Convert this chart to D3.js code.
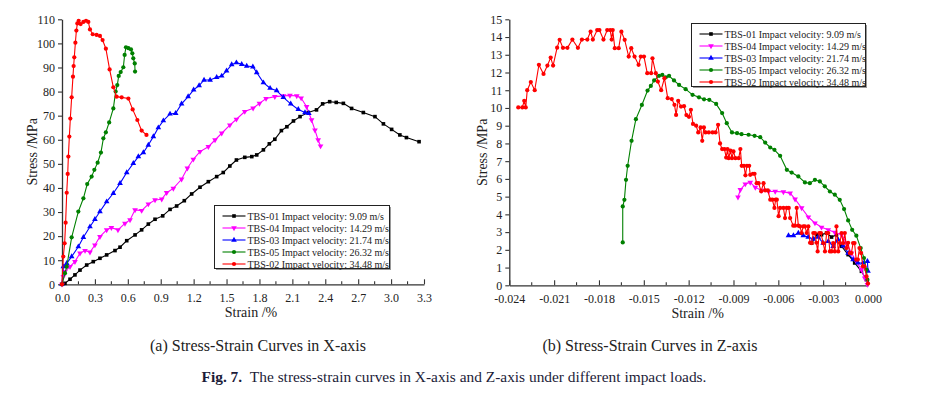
<!DOCTYPE html>
<html>
<head>
<meta charset="utf-8">
<script src="https://cdn.jsdelivr.net/npm/d3@7"></script>
<style>
  body { margin: 0; background: #fff; }
  svg { display: block; font-family: "Liberation Serif", "Times New Roman", serif; }
</style>
</head>
<body>
<div id="chart"></div>
<script>
// Legend labels (same order in both panels)
const legendLabels = [
    "TBS-01 Impact velocity: 9.09 m/s",
    "TBS-04 Impact velocity: 14.29 m/s",
    "TBS-03 Impact velocity: 21.74 m/s",
    "TBS-05 Impact velocity: 26.32 m/s",
    "TBS-02 Impact velocity: 34.48 m/s"
];
const seriesColors = ["#000000", "#ff00ff", "#0000ff", "#008000", "#ff0000"];
const seriesMarkers = ["square", "down", "up", "circle", "circle"];

// Ticks
const xTicksA = [0, 0.3, 0.6, 0.9, 1.2, 1.5, 1.8, 2.1, 2.4, 2.7, 3.0, 3.3];
const yTicksA = [0, 10, 20, 30, 40, 50, 60, 70, 80, 90, 100, 110];
const xTicksB = [-0.024, -0.021, -0.018, -0.015, -0.012, -0.009, -0.006, -0.003, 0];
const yTicksB = [0, 1, 2, 3, 4, 5, 6, 7, 8, 9, 10, 11, 12, 13, 14, 15];

// (a) X-axis: [strain %, stress MPa]
const xAxisTBS01 = [[0,0],[0.027,0.4],[0.073,2.1],[0.118,3.9],[0.164,5.9],[0.225,8],[0.285,9.4],[0.346,10.8],[0.407,12.2],[0.483,14],[0.529,15.4],[0.59,18.1],[0.666,20.5],[0.726,22.6],[0.787,25],[0.848,27],[0.918,28.4],[0.985,31.1],[1.045,32.5],[1.115,34.7],[1.182,37.5],[1.258,40.3],[1.334,42.6],[1.41,44.7],[1.47,46.4],[1.53,49.1],[1.59,51.6],[1.666,52.7],[1.73,53],[1.775,53.7],[1.836,55.8],[1.89,58.3],[1.94,60.2],[2.0,63.8],[2.05,65.4],[2.11,67.8],[2.17,69.6],[2.245,71.3],[2.32,72.4],[2.376,74.9],[2.44,75.8],[2.5,75.5],[2.565,75.1],[2.64,73],[2.747,71.3],[2.853,69.6],[2.93,66.6],[3.005,64.3],[3.08,62],[3.14,60.9],[3.255,59.2]];
const xAxisTBS04 = [[0,0],[0.012,3.2],[0.027,5.3],[0.073,7.3],[0.118,9.4],[0.164,12.9],[0.21,14],[0.255,13.3],[0.3,16.3],[0.346,19.8],[0.407,22.6],[0.45,23.5],[0.51,22.6],[0.574,25.3],[0.62,26.7],[0.666,30.9],[0.726,30.6],[0.787,33.3],[0.848,35],[0.909,35.3],[0.954,38],[1.015,39.8],[1.09,43.6],[1.143,48.2],[1.197,51.9],[1.258,55.1],[1.334,57.1],[1.395,59.9],[1.456,62.7],[1.53,66.1],[1.59,68.5],[1.666,71.7],[1.742,73.1],[1.8,75.1],[1.86,77.1],[1.94,77.9],[2.02,78.2],[2.078,78.4],[2.14,78.2],[2.18,77.3],[2.23,73.7],[2.275,68.2],[2.306,64],[2.335,59.9],[2.357,57.4]];
const xAxisTBS03 = [[0,0],[0.012,7.3],[0.043,8.7],[0.088,11.5],[0.149,15.6],[0.195,19.5],[0.255,23.9],[0.3,27],[0.346,30.2],[0.407,34.3],[0.468,37.8],[0.529,41.9],[0.59,46.4],[0.65,50.2],[0.696,53],[0.742,54.7],[0.787,57.8],[0.833,61.3],[0.878,65],[0.924,67.9],[0.985,70.7],[1.036,71],[1.09,74.9],[1.15,77.9],[1.2,80.7],[1.25,82.5],[1.295,84.8],[1.35,84.8],[1.41,85.9],[1.456,86.5],[1.5,88.6],[1.547,91.2],[1.59,92],[1.638,91.3],[1.684,90.6],[1.74,90.3],[1.775,87.9],[1.836,83.7],[1.897,81.4],[1.957,80.4],[2.018,77.6],[2.085,74.9],[2.154,72.6],[2.215,71.3],[2.25,71]];
const xAxisTBS05 = [[0,0],[0.027,4.6],[0.043,7.3],[0.088,19.5],[0.149,30.2],[0.195,35.7],[0.23,41.6],[0.27,44.7],[0.295,47.5],[0.325,50.5],[0.355,54.7],[0.377,60.6],[0.4,63.1],[0.43,67.2],[0.468,73],[0.489,80],[0.504,82.7],[0.517,86.5],[0.535,88.1],[0.559,90.1],[0.571,95.2],[0.583,98.4],[0.605,98],[0.629,97.5],[0.641,95.9],[0.65,93.8],[0.663,91.7],[0.666,88.3]];
const xAxisTBS02 = [[0,0],[0.012,11.5],[0.024,17],[0.033,25.6],[0.043,38],[0.052,45.8],[0.058,53],[0.067,61.3],[0.076,68.8],[0.088,77.6],[0.1,86.2],[0.106,90.6],[0.112,94.2],[0.122,100.3],[0.131,105.3],[0.14,108.3],[0.152,109.4],[0.17,108],[0.195,108.9],[0.219,109.4],[0.24,108.9],[0.255,105.8],[0.28,103.8],[0.316,103.5],[0.346,103.1],[0.37,101.4],[0.4,97.8],[0.434,89.2],[0.468,81.8],[0.498,77.9],[0.544,77.6],[0.605,77.1],[0.644,72.6],[0.687,68.2],[0.726,63.8],[0.77,62]];

// (b) Z-axis: [strain %, stress MPa]
const zAxisTBS01 = [[-0.00377,2.38],[-0.00344,2.85],[-0.00311,2.85],[-0.00277,2.95],[-0.00244,2.72],[-0.00211,2.85],[-0.00177,2.2],[-0.00133,1.73],[-0.00089,1.26],[-0.00044,0.79],[-0.00011,0.32]];
const zAxisTBS04 = [[-0.0087,4.97],[-0.00854,5.39],[-0.00821,5.71],[-0.00788,5.8],[-0.00754,5.52],[-0.0071,5.35],[-0.00665,5.29],[-0.00621,5.29],[-0.00566,5.27],[-0.00521,5.2],[-0.00488,4.86],[-0.00444,4.36],[-0.00399,3.85],[-0.00355,3.51],[-0.00311,3.27],[-0.00266,3.13],[-0.00222,2.98],[-0.00177,2.85],[-0.00144,2.38],[-0.00111,1.82],[-0.00078,1.35],[-0.00044,0.88],[-0.00022,0.41],[-0.00004,0.04]];
const zAxisTBS03 = [[-0.00532,2.8],[-0.00499,2.8],[-0.00466,2.95],[-0.00433,2.8],[-0.004,2.72],[-0.00366,2.61],[-0.00333,2.72],[-0.003,2.38],[-0.00266,2.48],[-0.00233,2.2],[-0.002,2.57],[-0.00166,2.23],[-0.00133,1.82],[-0.001,1.45],[-0.00067,1.26],[-0.00033,1.26],[-0.00004,1.35],[0,0.8]];
const zAxisTBS05 = [[-0.01641,2.42],[-0.01641,4.45],[-0.0163,4.82],[-0.01619,5.95],[-0.01608,6.74],[-0.01582,8.15],[-0.01553,9.37],[-0.01513,10.17],[-0.01475,10.98],[-0.01453,11.24],[-0.01431,11.55],[-0.01398,11.81],[-0.01376,11.86],[-0.01353,11.73],[-0.01331,11.81],[-0.01298,11.55],[-0.01264,11.3],[-0.0122,11.06],[-0.01174,10.74],[-0.01131,10.6],[-0.01097,10.49],[-0.01062,10.46],[-0.01016,10.23],[-0.00976,9.71],[-0.00945,9.14],[-0.0091,8.62],[-0.00876,8.58],[-0.00846,8.52],[-0.00799,8.49],[-0.00759,8.43],[-0.00721,8.35],[-0.00688,8.05],[-0.00654,7.77],[-0.00626,7.64],[-0.00588,7.3],[-0.00543,6.51],[-0.00511,6.36],[-0.00466,6.14],[-0.00422,5.8],[-0.00389,5.76],[-0.00355,5.95],[-0.00322,5.86],[-0.00289,5.58],[-0.00255,5.29],[-0.00222,5.11],[-0.00189,4.82],[-0.0016,4.3],[-0.00133,3.66],[-0.00106,3.13],[-0.00078,2.8],[-0.00049,2.1],[-0.00027,1.54],[-0.00011,0.88],[-0.00004,0.32]];
const zAxisTBS02 = [[-0.0234,10.03],[-0.02313,10.03],[-0.023,10.4],[-0.0229,10.03],[-0.0228,11.0],[-0.02256,11.46],[-0.0223,11.0],[-0.02202,12.43],[-0.02171,11.92],[-0.02145,12.39],[-0.02123,12.84],[-0.02107,12.39],[-0.0208,13.4],[-0.02063,13.84],[-0.02041,13.39],[-0.02011,13.39],[-0.01978,13.86],[-0.01941,13.39],[-0.01914,13.86],[-0.01878,13.86],[-0.01856,14.31],[-0.01841,13.86],[-0.01812,14.39],[-0.01797,14.39],[-0.0177,13.86],[-0.01745,14.39],[-0.01725,14.39],[-0.01715,13.86],[-0.01708,14.39],[-0.01694,13.37],[-0.01668,13.37],[-0.0165,14.3],[-0.01628,13.84],[-0.01601,12.9],[-0.01584,13.37],[-0.01562,12.9],[-0.01535,12.43],[-0.0152,12.9],[-0.01499,12.9],[-0.01477,11.96],[-0.01451,11.96],[-0.01442,12.8],[-0.0142,11.96],[-0.01406,11.49],[-0.01384,11.0],[-0.01362,11.68],[-0.0134,10.55],[-0.01313,10.5],[-0.01295,10.18],[-0.01284,9.61],[-0.0127,10.4],[-0.01251,10.08],[-0.01231,10.1],[-0.01215,9.6],[-0.01198,9.5],[-0.01185,9.9],[-0.01171,9.1],[-0.0115,9.0],[-0.01136,8.62],[-0.0112,8.9],[-0.01109,8.15],[-0.01098,8.9],[-0.01087,8.62],[-0.01065,8.62],[-0.0104,8.62],[-0.0102,8.62],[-0.01003,9.05],[-0.0099,8.0],[-0.00976,7.68],[-0.0096,7.68],[-0.00949,7.2],[-0.0094,7.68],[-0.00932,7.17],[-0.0092,7.6],[-0.0091,7.17],[-0.009,7.55],[-0.00887,7.17],[-0.00865,7.17],[-0.00854,7.68],[-0.00845,6.74],[-0.0083,6.74],[-0.0082,6.2],[-0.0081,6.74],[-0.00795,6.74],[-0.00788,6.23],[-0.0077,6.29],[-0.00759,6.29],[-0.00745,5.76],[-0.00732,5.76],[-0.00715,5.3],[-0.00699,5.76],[-0.00688,5.35],[-0.0067,5.35],[-0.00654,4.83],[-0.0064,4.83],[-0.00626,4.36],[-0.00618,4.83],[-0.0061,4.83],[-0.00598,3.9],[-0.00588,4.36],[-0.00566,4.36],[-0.00555,3.79],[-0.00544,4.36],[-0.0053,4.36],[-0.00521,3.79],[-0.005,3.36],[-0.00488,3.36],[-0.00477,4.36],[-0.00466,3.36],[-0.00455,3.32],[-0.00444,2.95],[-0.00433,3.32],[-0.00422,3.32],[-0.0041,2.95],[-0.00399,3.32],[-0.00388,2.4],[-0.00377,2.38],[-0.00366,2.95],[-0.00355,2.95],[-0.00345,2.4],[-0.00337,1.91],[-0.00326,2.95],[-0.00315,2.95],[-0.003,2.38],[-0.00288,1.91],[-0.00277,2.95],[-0.00266,2.95],[-0.00255,1.91],[-0.00244,1.91],[-0.00233,2.38],[-0.00222,1.91],[-0.00211,3.32],[-0.00199,1.91],[-0.00188,2.38],[-0.00177,2.95],[-0.00166,2.38],[-0.00155,2.95],[-0.00144,2.1],[-0.00133,2.4],[-0.00122,1.82],[-0.00111,1.82],[-0.001,2.38],[-0.0009,2.38],[-0.00079,1.45],[-0.00068,1.45],[-0.00057,2.1],[-0.00046,1.82],[-0.00035,1.07],[-0.00024,1.07],[-0.0001,0.5],[0,0.1]];

const width = 936, height = 397;

const svg = d3.select("#chart")
    .append("svg")
    .attr("width", width)
    .attr("height", height);

svg.append("rect").attr("width", width).attr("height", height).attr("fill", "#fff");

function markerPath(kind) {
    if (kind === "square") return d3.symbol().type(d3.symbolSquare).size(13)();
    if (kind === "circle") return d3.symbol().type(d3.symbolCircle).size(14)();
    return d3.symbol().type(d3.symbolTriangle).size(14)();
}

// plain hyphen for negatives, like the original figure
const hyphenFormat = spec => v => d3.format(spec)(v).replace("\u2212", "-");

// Draws one panel: axes, curves, legend
function drawPanel(cfg) {
    const x = d3.scaleLinear().domain(cfg.xDomain).range(cfg.xRange);
    const y = d3.scaleLinear().domain(cfg.yDomain).range(cfg.yRange);
    const g = svg.append("g");

    // minor x ticks (halfway between majors), pointing up
    const minor = d3.pairs(cfg.xTicks).map(p => (p[0] + p[1]) / 2);
    const xAxis = d3.axisBottom(x).tickValues(cfg.xTicks).tickFormat(cfg.xFormat)
        .tickSizeInner(-5).tickSizeOuter(0).tickPadding(9);
    const xg = g.append("g").attr("transform", `translate(0,${cfg.yRange[0]})`).call(xAxis);
    xg.selectAll(".tick.minor").data(minor).join("line")
        .attr("x1", d => x(d)).attr("x2", d => x(d))
        .attr("y1", 0).attr("y2", -3);
    xg.selectAll("line").attr("stroke", "#333").attr("stroke-width", 1.1);

    const yAxis = d3.axisLeft(y).tickValues(cfg.yTicks).tickFormat(d3.format("d"))
        .tickSizeInner(4).tickSizeOuter(0).tickPadding(3);
    const yg = g.append("g").attr("transform", `translate(${cfg.xRange[0]},0)`).call(yAxis);
    yg.selectAll("line").attr("stroke", "#333").attr("stroke-width", 1.1);

    [xg, yg].forEach(a => {
        a.attr("font-family", null);
        a.select(".domain").attr("stroke", "#333").attr("stroke-width", 1.3);
        a.selectAll("text").attr("font-size", 12).attr("fill", "#222");
    });

    // axis titles
    g.append("text")
        .attr("x", (cfg.xRange[0] + cfg.xRange[1]) / 2 + cfg.xTitleDx)
        .attr("y", cfg.yRange[0] + 33)
        .attr("text-anchor", "middle")
        .attr("font-size", 14).attr("fill", "#222")
        .text("Strain /%");
    g.append("text")
        .attr("transform", `translate(${cfg.yTitleX},${(cfg.yRange[0] + cfg.yRange[1]) / 2}) rotate(-90)`)
        .attr("text-anchor", "middle")
        .attr("dy", "0.35em")
        .attr("font-size", 14).attr("fill", "#222")
        .text("Stress /MPa");

    // curves
    const line = d3.line().x(d => x(d[0])).y(d => y(d[1]));
    cfg.series.forEach((data, i) => {
        g.append("path")
            .datum(data)
            .attr("fill", "none")
            .attr("stroke", seriesColors[i])
            .attr("stroke-width", 1.1)
            .attr("d", line);

        g.append("g")
            .selectAll("path")
            .data(data)
            .join("path")
            .attr("d", markerPath(seriesMarkers[i]))
            .attr("fill", seriesColors[i])
            .attr("transform", d => `translate(${x(d[0])},${y(d[1])})` + (seriesMarkers[i] === "down" ? " rotate(180)" : ""));
    });

    // legend box with offset shadow
    const lg = g.append("g").attr("transform", `translate(${cfg.legend.x},${cfg.legend.y})`);
    lg.append("rect").attr("x", 1.5).attr("y", 1.5).attr("width", cfg.legend.w).attr("height", cfg.legend.h)
        .attr("fill", "#9a9a9a");
    lg.append("rect").attr("width", cfg.legend.w).attr("height", cfg.legend.h)
        .attr("fill", "#fff").attr("stroke", "#222").attr("stroke-width", 1);
    legendLabels.forEach((label, i) => {
        const ry = 10.5 + i * 12;
        lg.append("line").attr("x1", 8).attr("x2", 31).attr("y1", ry).attr("y2", ry)
            .attr("stroke", seriesColors[i]).attr("stroke-width", 1.1);
        lg.append("path").attr("d", markerPath(seriesMarkers[i]))
            .attr("fill", seriesColors[i])
            .attr("transform", `translate(19.5,${ry})` + (seriesMarkers[i] === "down" ? " rotate(180)" : ""));
        lg.append("text").attr("x", 33).attr("y", ry).attr("dy", "0.35em")
            .attr("font-size", 10).attr("fill", "#222")
            .text(label);
    });
}

drawPanel({
    xDomain: [0, 3.3], xRange: [62, 424],
    yDomain: [0, 110], yRange: [284.3, 19.3],
    xTicks: xTicksA, yTicks: yTicksA, xFormat: d3.format(".1f"),
    xTitleDx: 8, yTitleX: 32,
    series: [xAxisTBS01, xAxisTBS04, xAxisTBS03, xAxisTBS05, xAxisTBS02],
    legend: { x: 214.5, y: 205.5, w: 175, h: 63 }
});

drawPanel({
    xDomain: [-0.024, 0], xRange: [509.3, 868],
    yDomain: [0, 15], yRange: [285.3, 19.3],
    xTicks: xTicksB, yTicks: yTicksB, xFormat: hyphenFormat(".3f"),
    xTitleDx: 9, yTitleX: 482,
    series: [zAxisTBS01, zAxisTBS04, zAxisTBS03, zAxisTBS05, zAxisTBS02],
    legend: { x: 691.5, y: 23.5, w: 174, h: 63 }
});

// sub captions
svg.append("text").attr("x", 258).attr("y", 351).attr("text-anchor", "middle")
    .attr("font-size", 16).attr("fill", "#222").text("(a) Stress-Strain Curves in X-axis");
svg.append("text").attr("x", 650).attr("y", 351).attr("text-anchor", "middle")
    .attr("font-size", 16).attr("fill", "#222").text("(b) Stress-Strain Curves in Z-axis");

// figure caption
const cap = svg.append("text").attr("x", 454).attr("y", 382).attr("text-anchor", "middle")
    .attr("font-size", 15.4).attr("fill", "#1c1c38");
cap.append("tspan").attr("font-weight", "bold").text("Fig. 7.");
cap.append("tspan").text("\u2002The stress-strain curves in X-axis and Z-axis under different impact loads.");
</script>
</body>
</html>
